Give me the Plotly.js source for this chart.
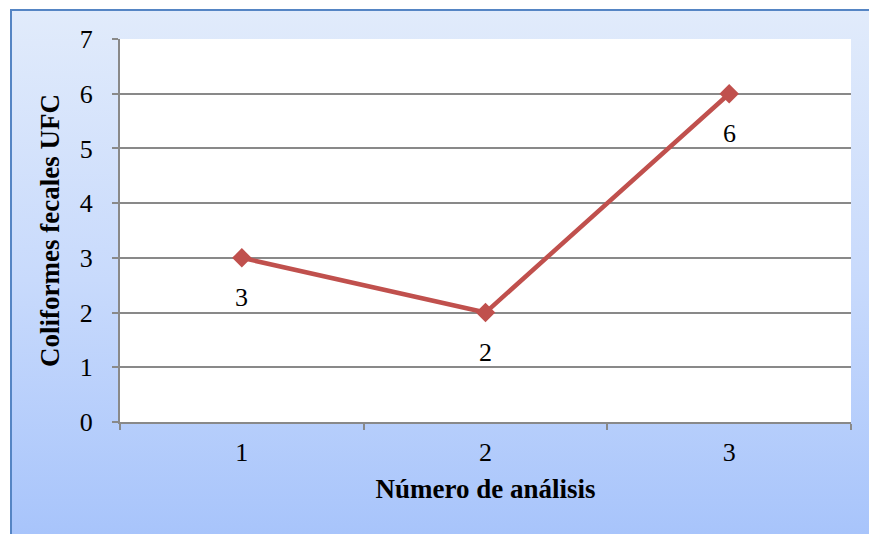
<!DOCTYPE html>
<html>
<head>
<meta charset="utf-8">
<script src="https://cdn.plot.ly/plotly-3.0.1.min.js"></script>
<style>
  html, body { margin: 0; padding: 0; background: #ffffff; overflow: hidden; }
  #frame {
    position: absolute; left: 10px; top: 9px; width: 880px; height: 540px;
    border-left: 2px solid #5585C4; border-top: 2px solid #5585C4;
    background: linear-gradient(to bottom, #E1EBFB 0%, #C8DAFC 50%, #A6C3FB 100%);
    box-sizing: border-box;
  }
  #chart { position: absolute; left: 0; top: 0; width: 869px; height: 534px; }
</style>
</head>
<body>
<div id="frame"></div>
<div id="chart"></div>
<script>
// Análisis de coliformes fecales (UFC) por número de análisis
const analisis = ['1', '2', '3'];
const coliformes = [3, 2, 6];
const yTicks = [0, 1, 2, 3, 4, 5, 6, 7];

const serif = "'Times New Roman', 'Liberation Serif', serif";
const red = '#C0504D';
const grey = '#898989';
const fs = 26;

const trace = {
  x: analisis,
  y: coliformes,
  type: 'scatter',
  mode: 'lines+markers',
  line: { color: red, width: 4.5 },
  marker: { symbol: 'diamond', size: 15, color: red },
  hoverinfo: 'skip'
};

// Etiquetas de valor debajo de cada punto (x por índice de categoría)
const labels = coliformes.map((v, i) => ({
  x: i, y: v, text: String(v),
  showarrow: false, yshift: -40,
  font: { family: serif, size: fs, color: '#000' }
}));

const layout = {
  width: 869, height: 534,
  margin: { l: 120, r: 18, t: 39, b: 112 },
  paper_bgcolor: 'rgba(0,0,0,0)',
  plot_bgcolor: '#ffffff',
  showlegend: false,
  font: { family: serif, size: fs, color: '#000' },
  xaxis: {
    type: 'category',
    tickson: 'boundaries',
    range: [-0.5, 2.5],
    ticks: 'outside', ticklen: 6, tickwidth: 2, tickcolor: grey,
    showline: true, linecolor: grey, linewidth: 2,
    showgrid: false, zeroline: false,
    tickfont: { family: serif, size: fs },
    ticklabelstandoff: 6,
    title: { text: '<b>Número de análisis</b>', font: { family: serif, size: 27 }, standoff: 13 }
  },
  yaxis: {
    range: [0, 7],
    tickvals: yTicks,
    ticks: 'outside', ticklen: 6, tickwidth: 2, tickcolor: grey,
    showline: true, linecolor: grey, linewidth: 2,
    showgrid: true, gridcolor: grey, gridwidth: 2,
    zeroline: false,
    tickfont: { family: serif, size: fs },
    ticklabelstandoff: 14,
    title: { text: '<b>Coliformes fecales UFC</b>', font: { family: serif, size: 27 }, standoff: 12 }
  },
  annotations: labels
};

Plotly.newPlot('chart', [trace], layout, { displayModeBar: false, staticPlot: true });
</script>
</body>
</html>
